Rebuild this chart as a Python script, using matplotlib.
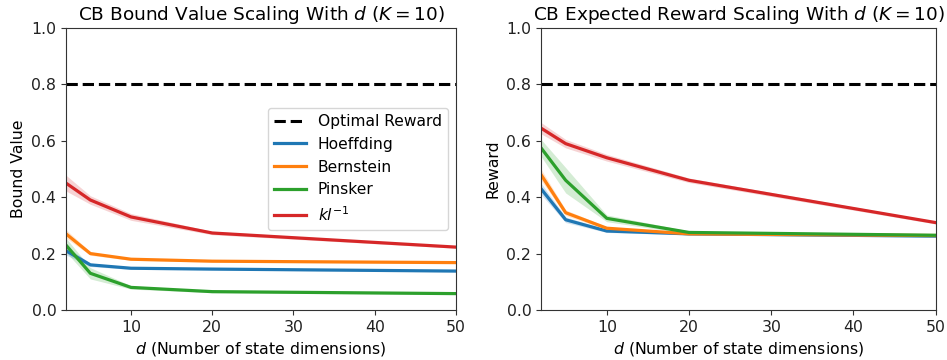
import matplotlib
matplotlib.use("Agg")
import matplotlib.pyplot as plt
import numpy as np

d_values = [2, 5, 10, 20, 50]
methods = ["Hoeffding", "Bernstein", "Pinsker", "$kl^{-1}$"]
colors = ["#1f77b4", "#ff7f0e", "#2ca02c", "#d62728"]
optimal_reward = 0.8

# Bound values (mean) and spread per method
bound_hoeffding = [0.21, 0.160, 0.148, 0.145, 0.138]
bound_bernstein = [0.27, 0.200, 0.180, 0.173, 0.168]
bound_pinsker = [0.23, 0.130, 0.080, 0.065, 0.058]
bound_kl = [0.45, 0.390, 0.330, 0.273, 0.223]
bound_hoeffding_sd = [0.015, 0.006, 0.004, 0.003, 0.003]
bound_bernstein_sd = [0.015, 0.006, 0.004, 0.003, 0.003]
bound_pinsker_sd = [0.025, 0.020, 0.006, 0.004, 0.003]
bound_kl_sd = [0.028, 0.015, 0.012, 0.006, 0.004]

# Expected rewards (mean) and spread per method
reward_hoeffding = [0.430, 0.320, 0.280, 0.270, 0.262]
reward_bernstein = [0.480, 0.345, 0.290, 0.270, 0.264]
reward_pinsker = [0.575, 0.460, 0.325, 0.275, 0.265]
reward_kl = [0.645, 0.590, 0.540, 0.460, 0.310]
reward_hoeffding_sd = [0.020, 0.010, 0.005, 0.004, 0.004]
reward_bernstein_sd = [0.020, 0.010, 0.005, 0.004, 0.004]
reward_pinsker_sd = [0.030, 0.045, 0.012, 0.005, 0.004]
reward_kl_sd = [0.020, 0.015, 0.012, 0.008, 0.005]

bounds = [bound_hoeffding, bound_bernstein, bound_pinsker, bound_kl]
bounds_sd = [bound_hoeffding_sd, bound_bernstein_sd, bound_pinsker_sd, bound_kl_sd]
rewards = [reward_hoeffding, reward_bernstein, reward_pinsker, reward_kl]
rewards_sd = [reward_hoeffding_sd, reward_bernstein_sd, reward_pinsker_sd, reward_kl_sd]

plt.rcParams["axes.edgecolor"] = "#333333"
plt.rcParams["xtick.color"] = "#333333"
plt.rcParams["ytick.color"] = "#333333"
plt.rcParams["xtick.labelcolor"] = "#222222"
plt.rcParams["ytick.labelcolor"] = "#222222"

fig = plt.figure(figsize=(9.47, 3.6), dpi=100)
ax1 = fig.add_axes([0.0697, 0.139, 0.4118, 0.783])
ax2 = fig.add_axes([0.5713, 0.139, 0.4167, 0.783])

x = np.array(d_values)


def draw(ax, means, sds, title, ylabel, legend):
    ax.plot([x[0], x[-1]], [optimal_reward, optimal_reward], "k--", lw=2.2,
            label="Optimal Reward")
    for m, s, c, name in zip(means, sds, colors, methods):
        m = np.array(m)
        s = np.array(s)
        ax.plot(x, m, color=c, lw=2.3, label=name)
        ax.fill_between(x, m - s, m + s, color=c, alpha=0.2, lw=0)
    ax.set_xlim(2, 50)
    ax.set_ylim(0, 1.0)
    ax.set_xticks([10, 20, 30, 40, 50])
    ax.set_yticks([0.0, 0.2, 0.4, 0.6, 0.8, 1.0])
    ax.tick_params(labelsize=11.3)
    ax.set_title(title, fontsize=13.3)
    ax.set_xlabel("$d$ (Number of state dimensions)", fontsize=11.3)
    ax.set_ylabel(ylabel, fontsize=11.3)
    if legend:
        ax.legend(loc="center right", fontsize=11.2)


draw(ax1, bounds, bounds_sd, "CB Bound Value Scaling With $d$ ($K=10$)",
     "Bound Value", True)
draw(ax2, rewards, rewards_sd, "CB Expected Reward Scaling With $d$ ($K=10$)",
     "Reward", False)

fig.savefig("out.png", dpi=100)
